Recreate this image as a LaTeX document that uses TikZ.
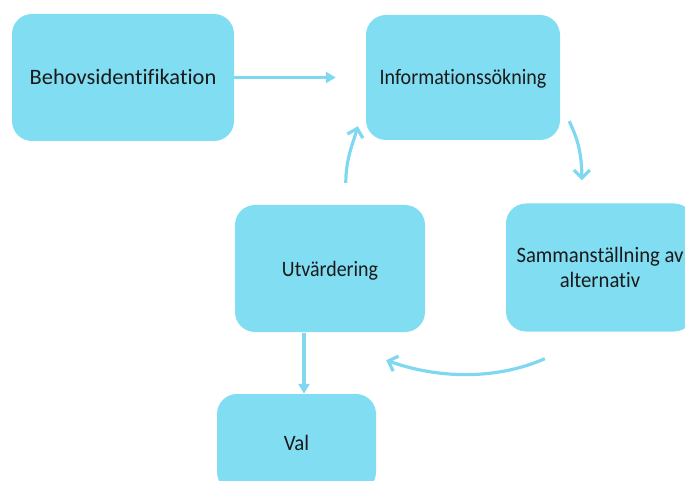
\documentclass[tikz,border=0pt]{standalone}
\usepackage{fontspec}
\setmainfont{Carlito}[Ligatures=NoCommon]
\usetikzlibrary{arrows.meta,calc}
\definecolor{boxfill}{HTML}{80DDF2}
\definecolor{linkcol}{HTML}{80D8F0}
\definecolor{txt}{HTML}{1A1A1A}
% squeeze a label horizontally by a given factor and drop its ink slightly
\newcommand{\squeezed}[2]{\raisebox{-2.5pt}[\height][\depth]{\scalebox{#1}[1]{\begin{tabular}{@{}c@{}}#2\end{tabular}}}}
\begin{document}
\begin{tikzpicture}[x=1pt,y=-1pt,
  stage/.style={fill=boxfill,draw=none,rounded corners=20pt,inner sep=0pt,
    text=txt,align=center,font=\fontsize{22}{25}\selectfont},
  link/.style={draw=linkcol,line width=3.2pt},
  barb/.style={-{Straight Barb[length=8pt,width=16pt,line width=3.2pt]}},
  tri/.style={-{Triangle[length=10pt,width=11pt]}}]
\useasboundingbox (0,0) rectangle (685,481);
\clip (0,0) rectangle (685,481);
\node[stage,minimum width=222pt,minimum height=127pt] (behov) at (123,77.5) {\squeezed{1.02}{Behovsidentifikation}};
\node[stage,minimum width=194pt,minimum height=125pt] (info) at (463,77.5) {\squeezed{0.91}{Informationssökning}};
\node[stage,minimum width=188pt,minimum height=128pt] (samman) at (600,267.5) {\squeezed{0.94}{Sammanställning av\\alternativ}};
\node[stage,minimum width=190pt,minimum height=127pt] (utv) at (330,268.5) {\squeezed{0.905}{Utvärdering}};
\node[stage,minimum width=159pt,minimum height=98pt] (val) at (296.5,443) {\squeezed{0.95}{Val}};
% free ends of the curved links
\coordinate (infoOut) at ($(info.south east)+(9,-19)$);
\coordinate (sammanIn) at ($(samman.north west)+(76,-23)$);
\coordinate (sammanOut) at ($(samman.south west)+(39,27)$);
\coordinate (utvIn) at ($(utv.south east)+(-39,28)$);
\coordinate (utvOut) at ($(utv.north west)+(111,-22)$);
\coordinate (infoIn) at ($(info.south west)+(-8,-14)$);
\coordinate (infoWest) at ($(info.west)+(-30,0)$);
\coordinate (utvDown) at ($(utv.south)+(-26,1)$);
\coordinate (valUp) at ($(val.north)+(7.5,0)$);
% links
\draw[link,tri] (behov.east) -- (infoWest);
\draw[link,barb] (infoOut) .. controls ($(infoOut)+(7,15)$) and ($(sammanIn)+(0,-30)$) .. (sammanIn);
\draw[link,barb] (sammanOut) .. controls ($(sammanOut)+(-50,22)$) and ($(utvIn)+(50,18)$) .. (utvIn);
\draw[link,barb] (utvOut) .. controls ($(utvOut)+(0,-25)$) and ($(infoIn)+(-4,15)$) .. (infoIn);
\draw[link,tri] (utvDown) -- (valUp);
\end{tikzpicture}
\end{document}
